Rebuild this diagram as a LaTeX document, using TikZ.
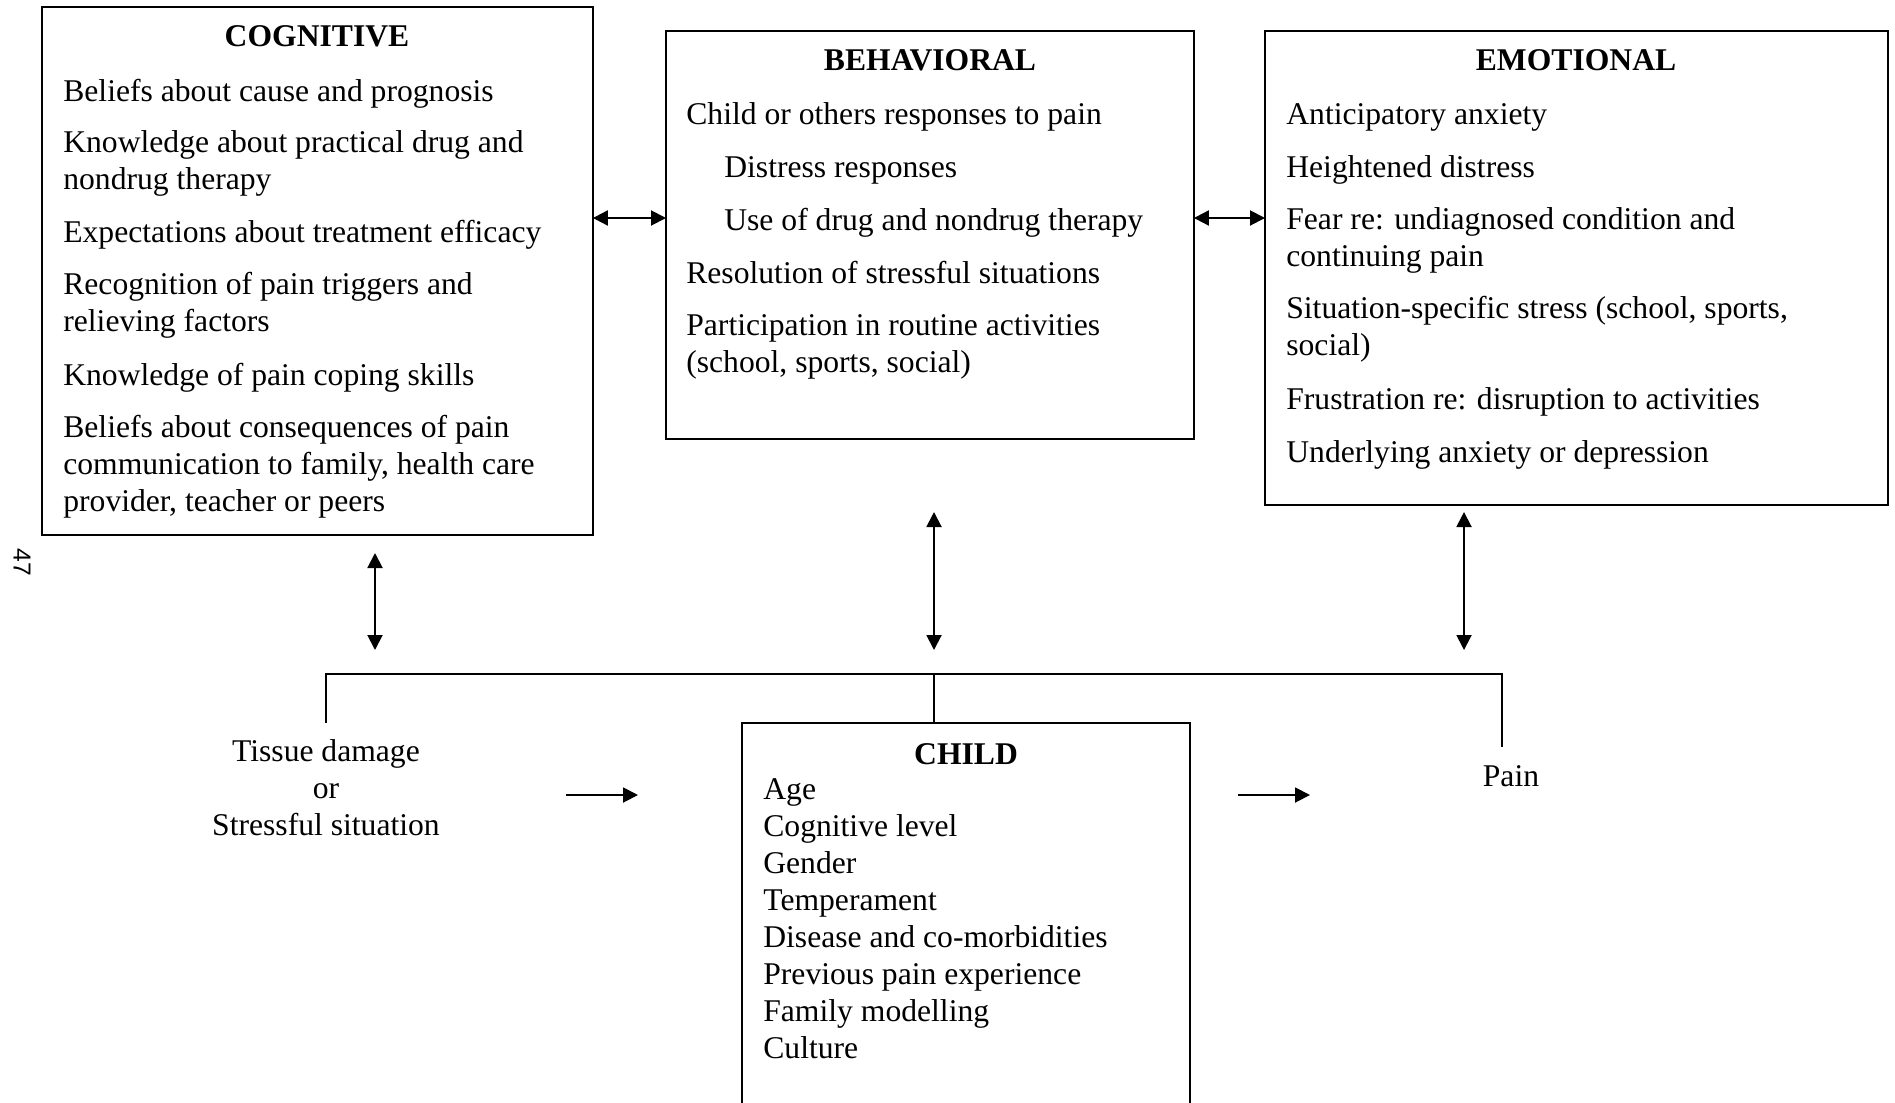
\documentclass[tikz,border=0pt]{standalone}
\usepackage{fontspec}
\setmainfont{Liberation Serif}
\newfontfamily\pagefont{Liberation Sans}
\usetikzlibrary{arrows.meta}
\tikzset{
  box/.style={draw, line width=1.1pt, inner sep=0pt, outer sep=0pt, anchor=north west},
  txt/.style={inner sep=0pt, anchor=base west, align=left, font=\fontsize{18}{20.8}\selectfont},
  ttl/.style={inner sep=0pt, anchor=base, font=\fontsize{18}{20.8}\selectfont\bfseries},
  ctxt/.style={inner sep=0pt, anchor=base, align=center, font=\fontsize{18}{20.8}\selectfont},
  tip/.tip={Triangle[length=0.3cm,width=0.3cm]},
  dbl/.style={line width=1.1pt, tip-tip},
  one/.style={line width=1.1pt, -tip},
  ln/.style={line width=1.1pt}
}
\begin{document}
\begin{tikzpicture}[x=0.02cm,y=-0.02cm]
\useasboundingbox (0,0) rectangle (1895,1102);
% boxes
\node[box, minimum width=11.02cm, minimum height=10.56cm] (cog) at (42,7) {};
\node[box, minimum width=10.56cm, minimum height=8.16cm] (beh) at (666,31) {};
\node[box, minimum width=12.46cm, minimum height=9.48cm] (emo) at (1265,31) {};
\node[inner sep=0pt, outer sep=0pt, anchor=north west, minimum width=8.96cm, minimum height=7.64cm] (child) at (742,723) {};
\draw[ln] (child.south west) -- (child.north west) -- (child.north east) -- (child.south east);
% cognitive (multi-line nodes are placed by the baseline of their last line)
\node[ttl] (cogt) at (317,46) {COGNITIVE};
\node[txt] (c1) at (63,101) {Beliefs about cause and prognosis};
\node[txt] (c2) at (63,189.5) {Knowledge about practical drug and\\nondrug therapy};
\node[txt] (c3) at (63,242) {Expectations about treatment efficacy};
\node[txt] (c4) at (63,331.5) {Recognition of pain triggers and\\relieving factors};
\node[txt] (c5) at (63,385) {Knowledge of pain coping skills};
\node[txt] (c6) at (63,511) {Beliefs about consequences of pain\\communication to family, health care\\provider, teacher or peers};
% behavioral
\node[ttl] (beht) at (930,70) {BEHAVIORAL};
\node[txt] (b1) at (686,124) {Child or others responses to pain};
\node[txt] (b2) at (724,177) {Distress responses};
\node[txt] (b3) at (724,230) {Use of drug and nondrug therapy};
\node[txt] (b4) at (686,283) {Resolution of stressful situations};
\node[txt] (b5) at (686,372.5) {Participation in routine activities\\(school, sports, social)};
% emotional
\node[ttl] (emot) at (1576,70) {EMOTIONAL};
\node[txt] (e1) at (1286,124) {Anticipatory anxiety};
\node[txt] (e2) at (1286,177) {Heightened distress};
\node[txt] (e3) at (1286,266.5) {Fear re: undiagnosed condition and\\continuing pain};
\node[txt] (e4) at (1286,355.5) {Situation-specific stress (school, sports,\\social)};
\node[txt] (e5) at (1286,409) {Frustration re: disruption to activities};
\node[txt] (e6) at (1286,462) {Underlying anxiety or depression};
% child
\node[ttl] (childt) at (966,764) {CHILD};
\node[txt, font=\fontsize{18}{21}\selectfont] (ch) at (763,1058) {Age\\Cognitive level\\Gender\\Temperament\\Disease and co-morbidities\\Previous pain experience\\Family modelling\\Culture};
% side texts
\node[ctxt] (tissue) at (326,835) {Tissue damage\\or\\Stressful situation};
\node[ctxt] (pain) at (1511,786) {Pain};
\node[inner sep=0pt, rotate=-90, font=\pagefont\fontsize{14}{16}\selectfont] (pg) at (22,562) {47};
% vertical double arrows
\coordinate (v1a) at (375,553);
\coordinate (v1b) at (375,650);
\coordinate (v2a) at (934,512);
\coordinate (v2b) at (934,650);
\coordinate (v3a) at (1464,512);
\coordinate (v3b) at (1464,650);
\draw[dbl] (v1a) -- (v1b);
\draw[dbl] (v2a) -- (v2b);
\draw[dbl] (v3a) -- (v3b);
% bracket
\coordinate (bl) at (326,723);
\coordinate (br) at (1502,747);
\coordinate (topl) at (326,674);
\coordinate (topr) at (1502,674);
\draw[ln] (bl) -- (topl) -- (topr) -- (br);
\draw[ln] (v2b |- topl) -- (v2b |- child.north);
% horizontal double arrows
\coordinate (hy) at (0,218);
\draw[dbl] (cog.east |- hy) -- (beh.west |- hy);
\draw[dbl] (beh.east |- hy) -- (emo.west |- hy);
% flow arrows
\coordinate (f1a) at (566,795);
\coordinate (f1b) at (638,795);
\coordinate (f2a) at (1238,795);
\coordinate (f2b) at (1310,795);
\draw[one] (f1a) -- (f1b);
\draw[one] (f2a) -- (f2b);
\end{tikzpicture}
\end{document}
